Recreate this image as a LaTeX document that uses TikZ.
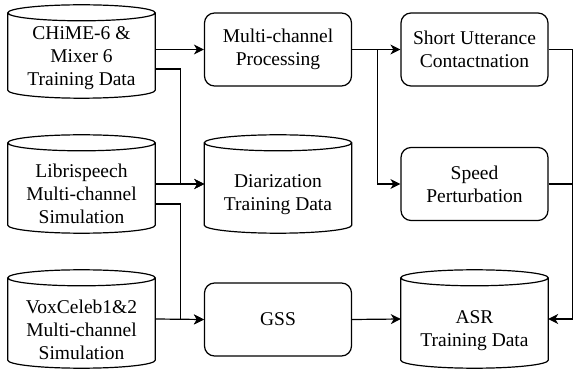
\documentclass[tikz,border=0pt]{standalone}
\usepackage{fontspec}
\setmainfont{Liberation Serif}
\newfontfamily\tnrfont{Liberation Serif}
\usetikzlibrary{arrows.meta,calc}
\tikzset{
  ln/.style={line width=1.2pt,draw=black},
  rbox/.style={ln,rounded corners=10pt,minimum width=147pt,minimum height=73pt,inner sep=0pt},
  dbshape/.style={inner sep=0pt,minimum width=147pt},
  txt/.style={align=center,font=\tnrfont\fontsize{19.5}{23}\selectfont,inner sep=0pt},
  arr/.style={ln,-{Stealth[length=10pt,width=10pt,inset=3pt]}},
  plain/.style={ln}
}
\newcommand{\dbdraw}[1]{%
  \draw[ln] let \p1=(#1.north west), \p2=(#1.south east), \n1={(\x2-\x1)/2} in
    (\x1,\y1-8pt) -- (\x1,\y2+8pt) arc[start angle=180,end angle=360,x radius=\n1,y radius=8pt] -- (\x2,\y1-8pt)
    (\x1/2+\x2/2,\y1-8pt) ellipse[x radius=\n1,y radius=8pt];}
\begin{document}
\begin{tikzpicture}[x=1pt,y=-1pt]
\useasboundingbox[fill=white] (0,0) rectangle (573,371);
% cylinders
\node[dbshape,minimum height=93pt] (chime) at (81.5,51.5) {};
\node[dbshape,minimum height=98pt] (libri) at (81.5,184) {};
\node[dbshape,minimum height=98pt] (vox) at (81.5,319) {};
\node[dbshape,minimum height=98pt] (diar) at (278,184) {};
\node[dbshape,minimum height=98pt] (asr) at (474.5,319) {};
\dbdraw{chime}\dbdraw{libri}\dbdraw{vox}\dbdraw{diar}\dbdraw{asr}
\node[txt] (chimet) at (81.5,58) {CHiME-6 \&\\Mixer 6\\Training Data};
\node[txt] (librit) at (81.5,194) {Librispeech\\Multi-channel\\Simulation};
\node[txt] (voxt) at (81.5,330) {VoxCeleb1\&2\\Multi-channel\\Simulation};
\node[txt] (diart) at (278,195) {Diarization\\Training Data};
\node[txt] (asrt) at (474.5,331) {ASR\\Training Data};
% rounded boxes
\node[rbox] (mcp) at (278,49.5) {};
\node[txt] (mcpt) at (mcp) {Multi-channel\\Processing};
\node[rbox] (short) at (474.5,49.5) {};
\node[txt] (shortt) at (short) {Short Utterance\\Contactnation};
\node[rbox] (speed) at (474.5,184) {};
\node[txt] (speedt) at (speed) {Speed\\Perturbation};
\node[rbox] (gss) at (278,319.5) {};
\node[txt] (gsst) at (gss) {GSS};
% connectors
\draw[arr] (chime.east |- mcp.west) -- (mcp.west);
\draw[arr] ([yshift=-17.5pt]chime.east) -- ++(25,0) |- (diar.west);
\draw[arr] (libri.east) -- (diar.west);
\draw[arr] ([yshift=-20pt]libri.east) -- ++(25,0) |- (gss.west);
\draw[arr] (vox.east) -- (gss.west);
\draw[arr] (mcp.east) -- (short.west);
\draw[arr] (mcp.east) -- ++(25,0) |- (speed.west);
\draw[arr] (gss.east) -- (asr.west);
\draw[arr] (short.east) -- ++(24,0) |- (asr.east);
\draw[plain] (speed.east) -- ++(24,0);
\end{tikzpicture}
\end{document}
